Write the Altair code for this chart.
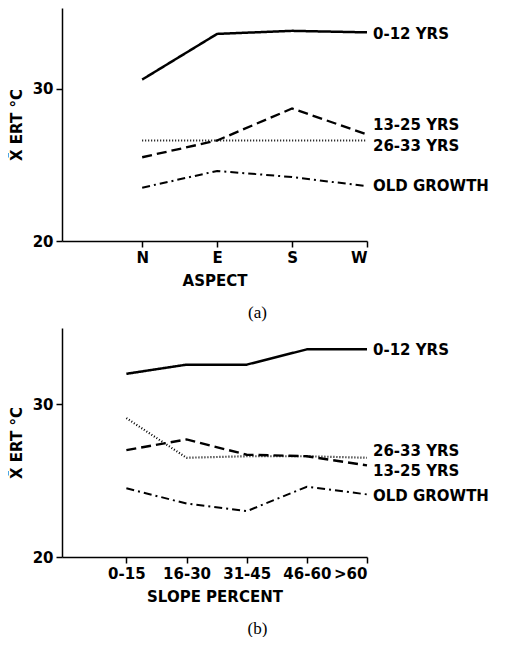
import altair as alt
import pandas as pd

series = ["0-12 YRS", "13-25 YRS", "26-33 YRS", "OLD GROWTH"]

aspect_cats = ["N", "E", "S", "W"]
aspect_0_12 = [30.6, 33.6, 33.8, 33.7]
aspect_13_25 = [25.5, 26.6, 28.7, 27.0]
aspect_26_33 = [26.6, 26.6, 26.6, 26.6]
aspect_old = [23.5, 24.6, 24.2, 23.6]
aspect_label_y = [33.6, 27.6, 26.25, 23.6]

slope_cats = ["0-15", "16-30", "31-45", "46-60", ">60"]
slope_0_12 = [32.0, 32.6, 32.6, 33.6, 33.6]
slope_13_25 = [27.0, 27.7, 26.7, 26.6, 26.0]
slope_26_33 = [29.1, 26.5, 26.6, 26.6, 26.5]
slope_old = [24.5, 23.5, 23.0, 24.6, 24.1]
slope_label_y = [33.55, 25.65, 26.95, 24.0]

FONT = "DejaVu Sans"
dash_range = [[1, 0], [10, 5], [1, 2], [8, 4, 2, 4]]
width_range = [2.5, 2, 1.2, 2]


def panel(cats, values, label_y, xtitle, caption, ymax, h):
    rows = []
    for s, vals in zip(series, values):
        for i, v in enumerate(vals):
            rows.append({"series": s, "xi": i, "value": v})
    df = pd.DataFrame(rows)
    lab = pd.DataFrame({"series": series, "ly": label_y})
    n = len(cats)
    arr = "[" + ",".join("'" + c + "'" for c in cats) + "]"
    x = alt.X(
        "xi:Q",
        scale=alt.Scale(domain=[-1.07, n - 1], nice=False, zero=False),
        axis=alt.Axis(values=list(range(n)), labelExpr=arr + "[datum.value]",
                      title=xtitle, grid=False),
    )
    y = alt.Y(
        "value:Q",
        scale=alt.Scale(domain=[20, ymax], nice=False, zero=False),
        axis=alt.Axis(values=[20, 30], title="X\u0304 ERT \u00b0C", grid=False),
    )
    lines = alt.Chart(df).mark_line(color="black").encode(
        x=x,
        y=y,
        detail="series:N",
        strokeDash=alt.StrokeDash("series:N", scale=alt.Scale(domain=series, range=dash_range), legend=None),
        strokeWidth=alt.StrokeWidth("series:N", scale=alt.Scale(domain=series, range=width_range), legend=None),
    )
    texts = alt.Chart(lab).mark_text(
        align="left", baseline="middle", font=FONT, fontSize=15, fontWeight="bold", color="black"
    ).encode(
        x=alt.value(311),
        y=alt.Y("ly:Q"),
        text="series:N",
    )
    return alt.layer(lines, texts).properties(
        width=305,
        height=h,
        title=alt.TitleParams(caption, orient="bottom", font="Liberation Serif", fontSize=17,
                              fontWeight="normal", dx=43, offset=17),
    )


pa = panel(aspect_cats, [aspect_0_12, aspect_13_25, aspect_26_33, aspect_old],
           aspect_label_y, "ASPECT", "(a)", 35.3, 233)
pb = panel(slope_cats, [slope_0_12, slope_13_25, slope_26_33, slope_old],
           slope_label_y, "SLOPE PERCENT", "(b)", 35.0, 229)

chart = alt.vconcat(pa, pb, spacing=7, padding={"left": 1, "top": 0, "right": 0, "bottom": 0}).configure_view(
    stroke=None
).configure_axis(
    domainColor="black", domainWidth=1.5, tickColor="black", tickWidth=1.5, tickSize=6,
    labelFont=FONT, labelFontSize=15, labelFontWeight="bold", labelColor="black",
    titleFont=FONT, titleFontSize=15, titleFontWeight="bold", titleColor="black",
    labelPadding=3, titlePadding=8,
)

chart.save("out.html", embed_options={"renderer": "svg", "actions": False})
